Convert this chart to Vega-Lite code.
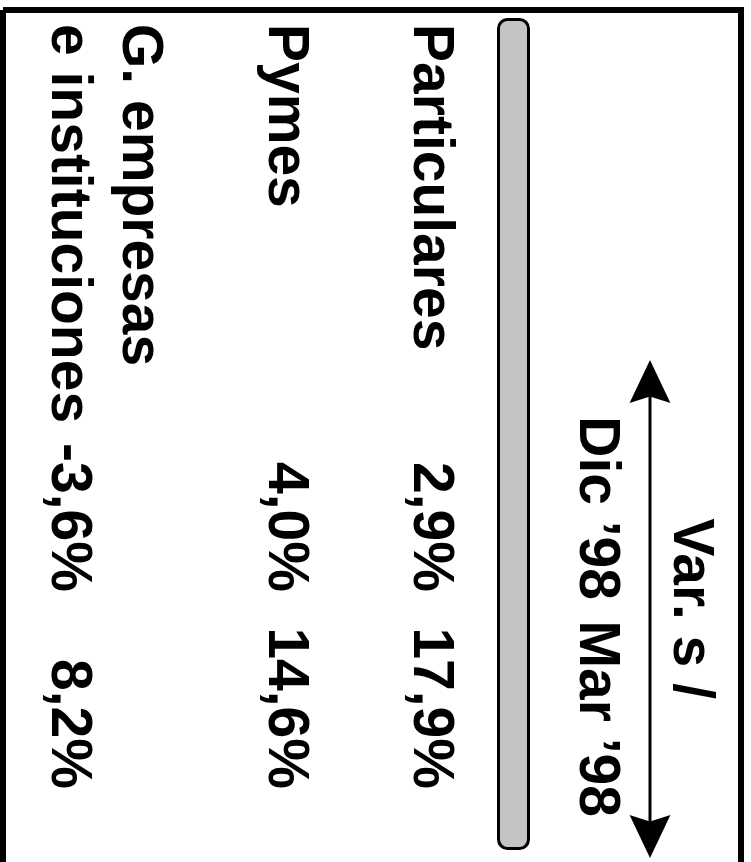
{
  "$schema": "https://vega.github.io/schema/vega-lite/v6.json",
  "width": 751,
  "height": 862,
  "autosize": {"type": "fit", "contains": "padding"},
  "padding": {"left": 3, "top": 10, "right": 10, "bottom": 0},
  "background": "white",
  "config": {
    "view": {"stroke": "black", "strokeWidth": 6, "strokeDash": [1590, 738, 852, 0]},
    "text": {"font": "Liberation Sans", "fontWeight": "bold", "fontSize": 57, "color": "black", "angle": 90, "baseline": "alphabetic"}
  },
  "datasets": {
    "celdas": [
      {"segmento": "Particulares", "linea": "1", "columna": "Segmento", "texto": "Particulares"},
      {"segmento": "Particulares", "linea": "1", "columna": "Dic ’98", "texto": "2,9%"},
      {"segmento": "Particulares", "linea": "1", "columna": "Mar ’98", "texto": "17,9%"},
      {"segmento": "Pymes", "linea": "1", "columna": "Segmento", "texto": "Pymes"},
      {"segmento": "Pymes", "linea": "1", "columna": "Dic ’98", "texto": "4,0%"},
      {"segmento": "Pymes", "linea": "1", "columna": "Mar ’98", "texto": "14,6%"},
      {"segmento": "G. empresas e instituciones", "linea": "1", "columna": "Segmento", "texto": "G. empresas"},
      {"segmento": "G. empresas e instituciones", "linea": "2", "columna": "Segmento", "texto": "e instituciones"},
      {"segmento": "G. empresas e instituciones", "linea": "2", "columna": "Dic ’98", "texto": "-3,6%"},
      {"segmento": "G. empresas e instituciones", "linea": "2", "columna": "Mar ’98", "texto": "8,2%"}
    ],
    "cabecera": [
      {"linea": "titulo", "columna": "Var", "texto": "Var. s /"},
      {"linea": "periodo", "columna": "Dic ’98", "texto": "Dic ’98"},
      {"linea": "periodo", "columna": "Mar ’98", "texto": "Mar ’98"}
    ]
  },
  "layer": [
    {
      "data": {"values": [{"elemento": "separador"}]},
      "mark": {"type": "rect", "fill": "#c4c4c4", "stroke": "black", "strokeWidth": 3, "cornerRadius": 9},
      "encoding": {
        "x": {"field": "elemento", "type": "nominal", "axis": null, "scale": {"type": "band", "domain": ["separador"], "range": [495.5, 525.5], "paddingInner": 0, "paddingOuter": 0}},
        "y": {"field": "elemento", "type": "nominal", "axis": null, "scale": {"type": "band", "domain": ["separador"], "range": [9.5, 838.5], "paddingInner": 0, "paddingOuter": 0}}
      }
    },
    {
      "data": {"values": [{"elemento": "flecha", "desde": 0, "hasta": 1}]},
      "mark": {"type": "rule", "color": "black", "strokeWidth": 3},
      "encoding": {
        "x": {"field": "elemento", "type": "nominal", "axis": null, "scale": {"type": "point", "domain": ["flecha"], "range": [647, 647]}},
        "y": {"field": "desde", "type": "quantitative", "axis": null, "scale": {"domain": [0, 1], "range": [372, 826]}},
        "y2": {"field": "hasta"}
      }
    },
    {
      "data": {"values": [{"elemento": "flecha", "extremo": "inicio"}, {"elemento": "flecha", "extremo": "fin"}]},
      "mark": {"type": "point", "filled": true, "color": "black", "opacity": 1, "size": 1849, "strokeWidth": 0},
      "encoding": {
        "x": {"field": "elemento", "type": "nominal", "axis": null, "scale": {"type": "point", "domain": ["flecha"], "range": [647, 647]}},
        "y": {"field": "extremo", "type": "nominal", "axis": null, "scale": {"type": "point", "domain": ["inicio", "fin"], "range": [371.5, 826.5], "padding": 0}},
        "shape": {"field": "extremo", "type": "nominal", "legend": null, "scale": {"domain": ["inicio", "fin"], "range": ["M0,-1L0.95,1L0,0.7L-0.95,1Z", "M0,1L0.95,-1L0,-0.7L-0.95,-1Z"]}}
      }
    },
    {
      "data": {"name": "celdas"},
      "transform": [{"filter": "datum.columna === 'Segmento'"}],
      "mark": {"type": "text", "align": "left"},
      "encoding": {
        "text": {"field": "texto"},
        "x": {"field": "segmento", "type": "nominal", "axis": null, "scale": {"type": "band", "domain": ["G. empresas e instituciones", "Pymes", "Particulares"], "range": [11.75, 448.25], "paddingInner": 0, "paddingOuter": 0}},
        "xOffset": {"field": "linea", "type": "nominal", "scale": {"type": "point", "domain": ["2", "1"], "padding": 0.5246}},
        "y": {"field": "columna", "type": "nominal", "axis": null, "scale": {"type": "point", "domain": ["Segmento"], "range": [14, 14]}}
      }
    },
    {
      "data": {"name": "celdas"},
      "transform": [{"filter": "datum.columna !== 'Segmento'"}],
      "mark": {"type": "text", "align": "right"},
      "encoding": {
        "text": {"field": "texto"},
        "x": {"field": "segmento", "type": "nominal", "axis": null, "scale": {"type": "band", "domain": ["G. empresas e instituciones", "Pymes", "Particulares"], "range": [11.75, 448.25], "paddingInner": 0, "paddingOuter": 0}},
        "xOffset": {"field": "linea", "type": "nominal", "scale": {"type": "point", "domain": ["2", "1"], "padding": 0.5246}},
        "y": {"field": "columna", "type": "nominal", "axis": null, "scale": {"type": "point", "domain": ["Dic ’98", "Mar ’98"], "range": [582, 779], "padding": 0}}
      }
    },
    {
      "data": {"name": "cabecera"},
      "transform": [{"filter": "datum.linea === 'periodo'"}],
      "mark": {"type": "text", "align": "right"},
      "encoding": {
        "text": {"field": "texto"},
        "x": {"field": "linea", "type": "nominal", "axis": null, "scale": {"type": "point", "domain": ["periodo"], "range": [577, 577]}},
        "y": {"field": "columna", "type": "nominal", "axis": null, "scale": {"type": "point", "domain": ["Dic ’98", "Mar ’98"], "range": [590, 807], "padding": 0}}
      }
    },
    {
      "data": {"name": "cabecera"},
      "transform": [{"filter": "datum.linea === 'titulo'"}],
      "mark": {"type": "text", "align": "right"},
      "encoding": {
        "text": {"field": "texto"},
        "x": {"field": "linea", "type": "nominal", "axis": null, "scale": {"type": "point", "domain": ["titulo"], "range": [671, 671]}},
        "y": {"field": "columna", "type": "nominal", "axis": null, "scale": {"type": "point", "domain": ["Var"], "range": [689, 689]}}
      }
    }
  ],
  "resolve": {"scale": {"x": "independent", "y": "independent", "xOffset": "independent", "shape": "independent"}}
}
